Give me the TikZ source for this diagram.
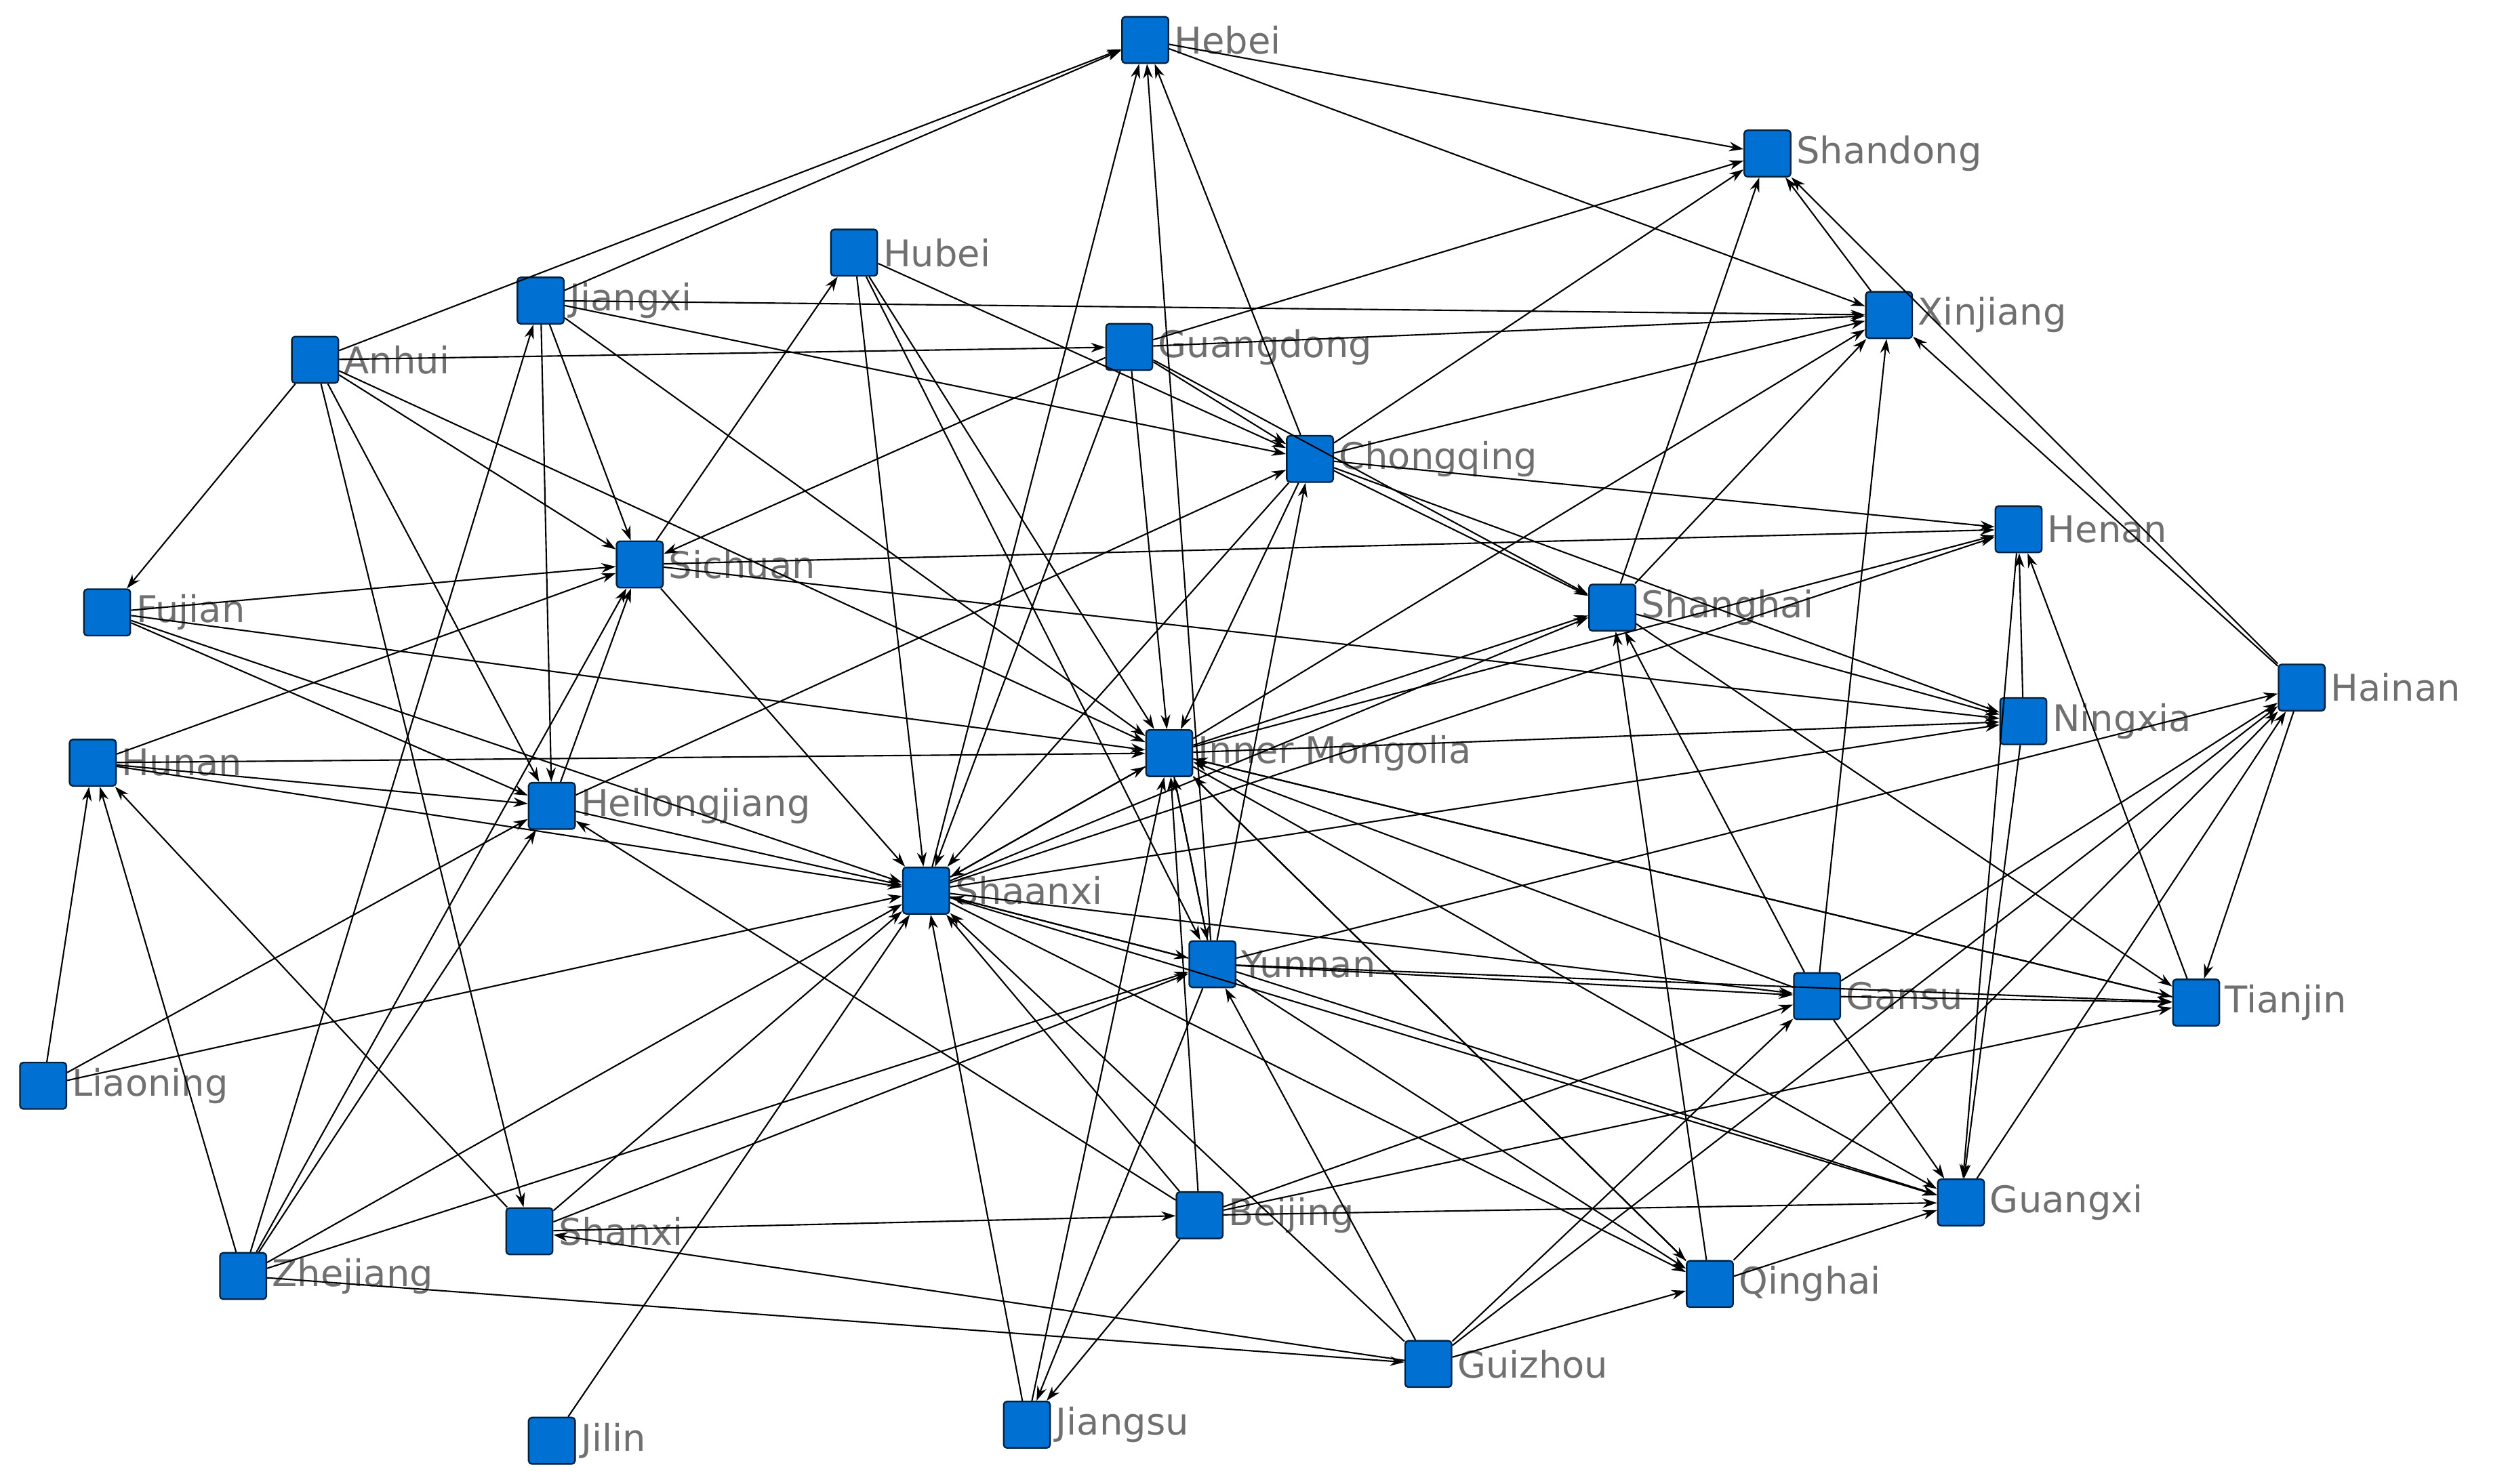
\documentclass[tikz,border=0pt]{standalone}
\usepackage{fontspec}
\setmainfont{DejaVu Sans}
\usetikzlibrary{arrows.meta}
\definecolor{nb}{RGB}{0,112,210}
\definecolor{lb}{RGB}{112,112,112}
\begin{document}
\begin{tikzpicture}[x=1pt,y=-1pt,
 n/.style={draw=black!70!nb,fill=nb,minimum size=29pt,inner sep=0pt,rounded corners=2pt,line width=1pt},
 lab/.style={text=lb,font=\fontsize{23}{26}\selectfont,anchor=west,inner sep=1pt},
 e/.style={-{Stealth[length=9pt,width=6pt]},line width=0.9pt,black}]
\useasboundingbox (0,0) rectangle (1568,928);
\def\N#1#2#3{\node[n] (#1) at (#2) {}; \node[lab] at ([xshift=2pt]#1.east) {#3};}
\N{hebei}{716,25}{Hebei}
\N{shandong}{1105,96}{Shandong}
\N{hubei}{534,158}{Hubei}
\N{jiangxi}{338,188}{Jiangxi}
\N{anhui}{197,225}{Anhui}
\N{guangdong}{706,217}{Guangdong}
\N{xinjiang}{1181,197}{Xinjiang}
\N{chongqing}{819,287}{Chongqing}
\N{henan}{1262,331}{Henan}
\N{sichuan}{400,353}{Sichuan}
\N{fujian}{67,383}{Fujian}
\N{shanghai}{1008,380}{Shanghai}
\N{hainan}{1439,430}{Hainan}
\N{ningxia}{1265,451}{Ningxia}
\N{im}{731,471}{Inner Mongolia}
\N{hunan}{58,477}{Hunan}
\N{heilong}{345,504}{Heilongjiang}
\N{shaanxi}{579,557}{Shaanxi}
\N{yunnan}{758,603}{Yunnan}
\N{gansu}{1136,623}{Gansu}
\N{tianjin}{1373,627}{Tianjin}
\N{liaoning}{27,679}{Liaoning}
\N{guangxi}{1226,752}{Guangxi}
\N{beijing}{750,760}{Beijing}
\N{shanxi}{331,770}{Shanxi}
\N{zhejiang}{152,798}{Zhejiang}
\N{qinghai}{1069,803}{Qinghai}
\N{guizhou}{893,853}{Guizhou}
\N{jiangsu}{642,891}{Jiangsu}
\N{jilin}{345,901}{Jilin}
\foreach \a/\b in {anhui/hebei,anhui/fujian,anhui/guangdong,anhui/sichuan,anhui/heilong,anhui/shanxi,anhui/im,
 jiangxi/sichuan,jiangxi/xinjiang,jiangxi/chongqing,jiangxi/im,jiangxi/heilong,jiangxi/hebei,
 hubei/shaanxi,hubei/chongqing,hubei/im,hubei/yunnan,sichuan/hubei,
 guangdong/xinjiang,guangdong/chongqing,guangdong/im,guangdong/shanghai,guangdong/sichuan,guangdong/shaanxi,
 hebei/shandong,hebei/xinjiang,shaanxi/hebei,yunnan/hebei,chongqing/hebei,
 guangdong/shandong,chongqing/shandong,shanghai/shandong,hainan/shandong,xinjiang/shandong,
 shanghai/xinjiang,gansu/xinjiang,chongqing/xinjiang,im/xinjiang,hainan/xinjiang,
 chongqing/henan,chongqing/shanghai,chongqing/ningxia,chongqing/shaanxi,chongqing/im,heilong/chongqing,yunnan/chongqing,
 sichuan/henan,ningxia/henan,tianjin/henan,shaanxi/henan,im/henan,
 im/shanghai,qinghai/shanghai,gansu/shanghai,shanghai/ningxia,shanghai/tianjin,shaanxi/shanghai,
 hainan/tianjin,gansu/hainan,yunnan/hainan,qinghai/hainan,
 ningxia/guangxi,shaanxi/ningxia,sichuan/ningxia,im/ningxia,
 fujian/im,hunan/im,shaanxi/im,yunnan/im,beijing/im,gansu/im,tianjin/im,qinghai/im,jiangsu/im,
 hunan/shaanxi,heilong/shaanxi,liaoning/shaanxi,zhejiang/shaanxi,shanxi/shaanxi,jiangsu/shaanxi,beijing/shaanxi,
 guizhou/shaanxi,yunnan/shaanxi,sichuan/shaanxi,shaanxi/yunnan,shaanxi/gansu,shaanxi/guangxi,shaanxi/qinghai,jilin/shaanxi,
 fujian/sichuan,fujian/heilong,fujian/shaanxi,
 hunan/sichuan,hunan/heilong,liaoning/hunan,zhejiang/hunan,shanxi/hunan,
 heilong/sichuan,zhejiang/heilong,liaoning/heilong,beijing/heilong,
 zhejiang/jiangxi,zhejiang/sichuan,zhejiang/guizhou,zhejiang/yunnan,
 yunnan/gansu,yunnan/tianjin,yunnan/guangxi,yunnan/qinghai,yunnan/jiangsu,shanxi/yunnan,
 beijing/guangxi,beijing/gansu,beijing/tianjin,beijing/jiangsu,shanxi/beijing,
 gansu/tianjin,gansu/guangxi,guizhou/gansu,guizhou/hainan,guizhou/qinghai,guizhou/shanxi,guizhou/yunnan,
 qinghai/guangxi,im/guangxi,im/tianjin,im/qinghai,henan/guangxi,guangxi/hainan,im/shaanxi,im/yunnan}
 \draw[e] (\a) -- (\b);
\end{tikzpicture}
\end{document}
